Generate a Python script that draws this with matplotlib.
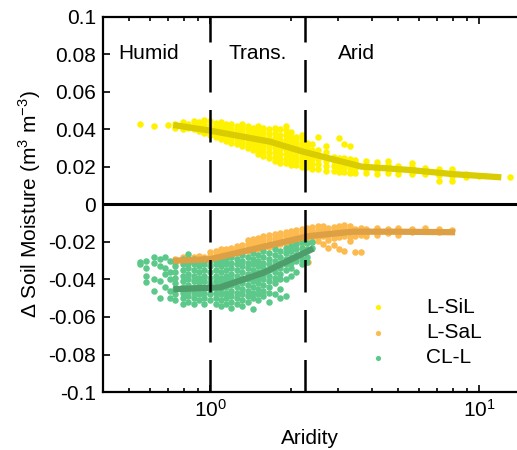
import numpy as np
import matplotlib.pyplot as plt

plt.rcParams['font.family'] = ['Liberation Sans', 'DejaVu Sans']

# --- scatter clouds (aridity, delta soil moisture) ---
sil_x = [0.55, 0.62, 0.70,
         0.74, 0.74, 0.79, 0.79, 0.79, 0.83, 0.83, 0.87, 0.87, 0.87,
         0.91, 0.91, 0.91, 0.95, 0.95, 0.95, 0.95, 1.00, 1.00, 1.00, 1.00,
         1.05, 1.05, 1.05, 1.05, 1.10, 1.10, 1.10, 1.10, 1.10,
         1.15, 1.15, 1.15, 1.15, 1.15, 1.20, 1.20, 1.20, 1.20, 1.20,
         1.26, 1.26, 1.26, 1.26, 1.26, 1.32, 1.32, 1.32, 1.32, 1.32, 1.32,
         1.38, 1.38, 1.38, 1.38, 1.38, 1.38, 1.45, 1.45, 1.45, 1.45, 1.45, 1.45,
         1.51, 1.51, 1.51, 1.51, 1.51, 1.51, 1.51,
         1.58, 1.58, 1.58, 1.58, 1.58, 1.58, 1.58,
         1.66, 1.66, 1.66, 1.66, 1.66, 1.66, 1.66,
         1.74, 1.74, 1.74, 1.74, 1.74, 1.74, 1.74, 1.74,
         1.82, 1.82, 1.82, 1.82, 1.82, 1.82, 1.82, 1.82,
         1.91, 1.91, 1.91, 1.91, 1.91, 1.91, 1.91, 1.91, 1.91,
         2.00, 2.00, 2.00, 2.00, 2.00, 2.00, 2.00, 2.00,
         2.09, 2.09, 2.09, 2.09, 2.09, 2.09, 2.09,
         2.19, 2.19, 2.19, 2.19, 2.19, 2.19, 2.19, 2.19,
         2.29, 2.29, 2.29, 2.29, 2.29, 2.29,
         2.40, 2.40, 2.40, 2.40, 2.40, 2.40, 2.52,
         2.51, 2.51, 2.51, 2.51, 2.51,
         2.69, 2.69, 2.69, 2.69, 2.69, 2.69,
         2.88, 2.88, 2.88, 2.88,
         3.02, 3.02, 3.02, 3.02, 3.02, 3.16, 3.16, 3.16, 3.16, 3.16,
         3.32, 3.32, 3.32, 3.32, 3.32, 3.47, 3.47, 3.47, 3.47,
         3.80, 3.80, 3.80, 3.80, 4.17, 4.17, 4.17, 4.17,
         4.57, 4.57, 4.57, 4.57, 5.01, 5.01, 5.01,
         5.62, 5.62, 5.62, 5.62, 6.31, 6.31, 6.31,
         7.08, 7.08, 7.08, 7.08, 7.94, 7.94, 7.94, 7.94,
         8.91, 8.91, 10.0, 13.0]
sil_y = [0.043, 0.042, 0.0426,
         0.041, 0.043, 0.040, 0.0425, 0.044, 0.041, 0.043, 0.040, 0.042, 0.0445,
         0.039, 0.0415, 0.044, 0.038, 0.0405, 0.043, 0.045, 0.037, 0.0395, 0.042, 0.0445,
         0.036, 0.0385, 0.041, 0.0435, 0.035, 0.0375, 0.040, 0.0425, 0.044,
         0.034, 0.0365, 0.039, 0.0415, 0.043, 0.033, 0.0355, 0.038, 0.0405, 0.043,
         0.032, 0.0345, 0.037, 0.0395, 0.042, 0.031, 0.0335, 0.036, 0.0385, 0.041, 0.043,
         0.030, 0.0325, 0.035, 0.0375, 0.040, 0.042, 0.029, 0.0315, 0.034, 0.0365, 0.039, 0.041,
         0.027, 0.0295, 0.032, 0.0345, 0.037, 0.0395, 0.042,
         0.026, 0.0285, 0.031, 0.0335, 0.036, 0.0385, 0.041,
         0.025, 0.0275, 0.030, 0.0325, 0.035, 0.0375, 0.040,
         0.023, 0.0255, 0.028, 0.0305, 0.033, 0.0355, 0.038, 0.041,
         0.022, 0.0245, 0.027, 0.0295, 0.032, 0.0345, 0.037, 0.040,
         0.022, 0.0245, 0.027, 0.0295, 0.032, 0.0345, 0.037, 0.0395, 0.042,
         0.021, 0.0235, 0.026, 0.0285, 0.031, 0.0335, 0.036, 0.0385,
         0.021, 0.0235, 0.026, 0.0285, 0.031, 0.0335, 0.036,
         0.020, 0.0225, 0.025, 0.0275, 0.030, 0.0325, 0.035, 0.037,
         0.020, 0.0225, 0.025, 0.0275, 0.030, 0.033,
         0.019, 0.0215, 0.024, 0.0265, 0.029, 0.032, 0.036,
         0.019, 0.0215, 0.024, 0.0265, 0.029,
         0.018, 0.0205, 0.023, 0.0255, 0.028, 0.031,
         0.018, 0.0205, 0.023, 0.0255,
         0.0175, 0.020, 0.0225, 0.025, 0.0355, 0.0175, 0.020, 0.0225, 0.025, 0.032,
         0.017, 0.0195, 0.022, 0.024, 0.031, 0.017, 0.0195, 0.022, 0.0235,
         0.017, 0.019, 0.021, 0.023, 0.0165, 0.0185, 0.0205, 0.0225,
         0.017, 0.019, 0.021, 0.023, 0.0165, 0.0185, 0.0205,
         0.016, 0.018, 0.020, 0.022, 0.016, 0.018, 0.0195,
         0.0155, 0.0175, 0.019, 0.0125, 0.0125, 0.015, 0.017, 0.019,
         0.0145, 0.0165, 0.015, 0.0147]

sal_x = [0.74, 0.74, 0.79, 0.79, 0.83, 0.83, 0.87, 0.87, 0.91, 0.91, 0.95, 0.95,
         1.00, 1.00, 1.00, 1.05, 1.05, 1.05, 1.10, 1.10, 1.10, 1.15, 1.15, 1.15,
         1.20, 1.20, 1.20, 1.26, 1.26, 1.26, 1.32, 1.32, 1.32,
         1.38, 1.38, 1.38, 1.38, 1.45, 1.45, 1.45, 1.45, 1.51, 1.51, 1.51, 1.51,
         1.58, 1.58, 1.58, 1.58, 1.66, 1.66, 1.66, 1.66, 1.74, 1.74, 1.74, 1.74,
         1.82, 1.82, 1.82, 1.82, 1.91, 1.91, 1.91, 1.91, 2.00, 2.00, 2.00, 2.00,
         2.09, 2.09, 2.09, 2.09, 2.19, 2.19, 2.19, 2.19, 2.19,
         2.29, 2.29, 2.29, 2.29, 2.31, 2.40, 2.40, 2.40, 2.40, 2.40,
         2.51, 2.51, 2.51, 2.51, 2.51, 2.63, 2.63, 2.63, 2.63, 2.63,
         2.75, 2.75, 2.75, 2.75, 2.75, 2.88, 2.88, 2.88, 2.88, 2.88,
         3.02, 3.02, 3.02, 3.02, 3.02, 3.16, 3.16, 3.16, 3.16, 3.16,
         3.32, 3.32, 3.32, 3.32, 3.32, 3.47, 3.47, 3.47, 3.47,
         3.63, 3.63, 3.63, 3.63, 3.80, 3.80, 3.80, 4.17, 4.17, 4.17,
         4.57, 4.57, 5.01, 5.01, 5.01, 5.62, 5.62, 6.31, 6.31, 7.08, 7.08, 7.94]
sal_y = [-0.031, -0.029, -0.030, -0.028, -0.031, -0.029, -0.030, -0.028, -0.0295, -0.0275, -0.030, -0.028,
         -0.0295, -0.0275, -0.0255, -0.029, -0.027, -0.025, -0.028, -0.026, -0.024, -0.0275, -0.0255, -0.0235,
         -0.027, -0.025, -0.023, -0.026, -0.024, -0.022, -0.0255, -0.0235, -0.0215,
         -0.025, -0.023, -0.021, -0.019, -0.0245, -0.0225, -0.0205, -0.0185, -0.024, -0.022, -0.020, -0.018,
         -0.023, -0.021, -0.019, -0.017, -0.0225, -0.0205, -0.0185, -0.0165, -0.022, -0.020, -0.018, -0.016,
         -0.021, -0.019, -0.017, -0.015, -0.0205, -0.0185, -0.0165, -0.0145, -0.020, -0.018, -0.016, -0.014,
         -0.0195, -0.0175, -0.0155, -0.0135, -0.019, -0.017, -0.015, -0.013, -0.021,
         -0.0185, -0.0165, -0.0145, -0.0125, -0.0305, -0.018, -0.016, -0.014, -0.012, -0.020,
         -0.0175, -0.0155, -0.0135, -0.0115, -0.0195, -0.017, -0.015, -0.013, -0.0115, -0.021,
         -0.0165, -0.0145, -0.0125, -0.019, -0.023, -0.016, -0.014, -0.012, -0.018, -0.0215,
         -0.0155, -0.0135, -0.0115, -0.0175, -0.024, -0.015, -0.013, -0.011, -0.017, -0.025,
         -0.015, -0.013, -0.0115, -0.0175, -0.0195, -0.015, -0.013, -0.017, -0.0253,
         -0.0145, -0.0125, -0.0165, -0.0253, -0.015, -0.013, -0.017, -0.0145, -0.0125, -0.0165,
         -0.015, -0.013, -0.0145, -0.0125, -0.0165, -0.0145, -0.013, -0.014, -0.0125, -0.0145, -0.013, -0.0135]

cll_x = [0.55, 0.55, 0.58, 0.58, 0.58, 0.58, 0.62, 0.62, 0.62, 0.62,
         0.65, 0.65, 0.65, 0.65, 0.68, 0.68, 0.68, 0.68, 0.71, 0.71, 0.71, 0.71, 0.71,
         0.74, 0.74, 0.74, 0.74, 0.74, 0.74, 0.74, 0.74,
         0.79, 0.79, 0.79, 0.79, 0.79, 0.79, 0.79, 0.79, 0.79,
         0.83, 0.83, 0.83, 0.83, 0.83, 0.83, 0.83, 0.83, 0.83,
         0.87, 0.87, 0.87, 0.87, 0.87, 0.87, 0.87, 0.87, 0.87,
         0.91, 0.91, 0.91, 0.91, 0.91, 0.91, 0.91, 0.91,
         0.95, 0.95, 0.95, 0.95, 0.95, 0.95, 0.95, 0.95, 0.95,
         1.00, 1.00, 1.00, 1.00, 1.00, 1.00, 1.00, 1.00,
         1.05, 1.05, 1.05, 1.05, 1.05, 1.05, 1.05, 1.05, 1.05,
         1.10, 1.10, 1.10, 1.10, 1.10, 1.10, 1.10, 1.10, 1.10,
         1.15, 1.15, 1.15, 1.15, 1.15, 1.15, 1.15, 1.15, 1.15,
         1.20, 1.20, 1.20, 1.20, 1.20, 1.20, 1.20, 1.20, 1.20, 1.20,
         1.26, 1.26, 1.26, 1.26, 1.26, 1.26, 1.26, 1.26, 1.26,
         1.32, 1.32, 1.32, 1.32, 1.32, 1.32, 1.32, 1.32, 1.32, 1.32,
         1.38, 1.38, 1.38, 1.38, 1.38, 1.38, 1.38, 1.38, 1.38,
         1.45, 1.45, 1.45, 1.45, 1.45, 1.45, 1.45, 1.45, 1.45, 1.45,
         1.51, 1.51, 1.51, 1.51, 1.51, 1.51, 1.51, 1.51, 1.51,
         1.58, 1.58, 1.58, 1.58, 1.58, 1.58, 1.58, 1.58, 1.58,
         1.66, 1.66, 1.66, 1.66, 1.66, 1.66, 1.66, 1.66, 1.66,
         1.74, 1.74, 1.74, 1.74, 1.74, 1.74, 1.74, 1.74,
         1.82, 1.82, 1.82, 1.82, 1.82, 1.82, 1.82, 1.82,
         1.91, 1.91, 1.91, 1.91, 1.91, 1.91, 1.91,
         2.00, 2.00, 2.00, 2.00, 2.00, 2.00, 2.09, 2.09, 2.09, 2.09, 2.09,
         2.19, 2.19, 2.19, 2.19, 2.19, 2.29, 2.29, 2.29, 2.29, 2.40, 2.40]
cll_y = [-0.0305, -0.032, -0.030, -0.034, -0.038, -0.0415, -0.031, -0.028, -0.040, -0.046,
         -0.029, -0.033, -0.041, -0.050, -0.028, -0.034, -0.037, -0.044, -0.030, -0.036, -0.040, -0.046, -0.050,
         -0.030, -0.033, -0.036, -0.039, -0.042, -0.045, -0.048, -0.051,
         -0.029, -0.032, -0.035, -0.038, -0.041, -0.044, -0.047, -0.050, -0.053,
         -0.0265, -0.031, -0.034, -0.037, -0.040, -0.043, -0.046, -0.049, -0.052,
         -0.029, -0.032, -0.035, -0.038, -0.041, -0.044, -0.047, -0.050, -0.053,
         -0.030, -0.033, -0.036, -0.039, -0.042, -0.045, -0.048, -0.051,
         -0.029, -0.032, -0.035, -0.038, -0.041, -0.044, -0.047, -0.050, -0.053,
         -0.030, -0.033, -0.036, -0.039, -0.042, -0.045, -0.048, -0.051,
         -0.029, -0.032, -0.035, -0.038, -0.041, -0.044, -0.047, -0.050, -0.053,
         -0.030, -0.033, -0.036, -0.039, -0.042, -0.045, -0.048, -0.051, -0.054,
         -0.029, -0.032, -0.035, -0.038, -0.041, -0.044, -0.047, -0.050, -0.053,
         -0.028, -0.031, -0.034, -0.037, -0.040, -0.043, -0.046, -0.049, -0.052, -0.055,
         -0.029, -0.032, -0.035, -0.038, -0.041, -0.044, -0.047, -0.050, -0.053,
         -0.027, -0.030, -0.033, -0.036, -0.039, -0.042, -0.045, -0.048, -0.051, -0.054,
         -0.028, -0.031, -0.034, -0.037, -0.040, -0.043, -0.046, -0.049, -0.052,
         -0.026, -0.029, -0.032, -0.035, -0.038, -0.041, -0.044, -0.047, -0.050, -0.0555,
         -0.027, -0.030, -0.033, -0.036, -0.039, -0.042, -0.045, -0.048, -0.051,
         -0.025, -0.028, -0.031, -0.034, -0.037, -0.040, -0.043, -0.046, -0.049,
         -0.026, -0.029, -0.032, -0.035, -0.038, -0.041, -0.044, -0.047, -0.052,
         -0.024, -0.027, -0.030, -0.033, -0.036, -0.039, -0.042, -0.048,
         -0.025, -0.028, -0.031, -0.034, -0.037, -0.040, -0.045, -0.050,
         -0.023, -0.026, -0.029, -0.032, -0.035, -0.040, -0.049,
         -0.022, -0.025, -0.028, -0.031, -0.034, -0.038, -0.021, -0.024, -0.027, -0.030, -0.036,
         -0.020, -0.023, -0.026, -0.029, -0.032, -0.0205, -0.024, -0.028, -0.0305, -0.020, -0.023]

# --- binned trend lines ---
sil_trend_x = [0.73, 1.0, 1.67, 2.2, 3.66, 5.54, 8.0, 12.1]
sil_trend_y = [0.0424, 0.0394, 0.0335, 0.0283, 0.0202, 0.0184, 0.0162, 0.0145]
sal_trend_x = [0.73, 1.0, 1.58, 2.35, 3.4, 4.94, 8.15]
sal_trend_y = [-0.030, -0.0292, -0.0225, -0.0168, -0.0145, -0.0145, -0.0148]
cll_trend_x = [0.73, 1.09, 1.58, 2.42]
cll_trend_y = [-0.0452, -0.0442, -0.0364, -0.0235]

labels = ['L-SiL', 'L-SaL', 'CL-L']
dot_colors = ['#FFF200', '#FDBA4E', '#5CC98A']
line_colors = ['#D9CC00', '#DDA044', '#4E9E6C']

zones = ['Humid', 'Trans.', 'Arid']
zone_x = [0.59, 1.51, 3.5]
bounds = [1.0, 2.25]

yticks = [-0.1, -0.08, -0.06, -0.04, -0.02, 0, 0.02, 0.04, 0.06, 0.08, 0.1]
ytick_labels = ['-0.1', '-0.08', '-0.06', '-0.04', '-0.02', '0', '0.02', '0.04', '0.06', '0.08', '0.1']

fs = 15

fig = plt.figure(figsize=(5.17, 4.5), dpi=100)
ax = fig.add_axes([103 / 517, 1 - 392 / 450, 1 - 103 / 517, (392 - 17) / 450])

ax.scatter(sil_x, sil_y, s=22, color=dot_colors[0], lw=0, label=labels[0], zorder=2)
ax.scatter(sal_x, sal_y, s=22, color=dot_colors[1], lw=0, label=labels[1], zorder=2)
ax.scatter(cll_x, cll_y, s=22, color=dot_colors[2], lw=0, label=labels[2], zorder=2)

ax.plot(sil_trend_x, sil_trend_y, color=line_colors[0], lw=4.5, zorder=3, solid_capstyle='butt')
ax.plot(sal_trend_x, sal_trend_y, color=line_colors[1], lw=4.5, zorder=3, solid_capstyle='butt')
ax.plot(cll_trend_x, cll_trend_y, color=line_colors[2], lw=4.5, zorder=3, solid_capstyle='butt')

ax.axhline(0, color='black', lw=2.2, zorder=4)
for b in bounds:
    ax.axvline(b, color='black', lw=1.8, dashes=(13, 7), zorder=4)

for name, zx in zip(zones, zone_x):
    ax.text(zx, 0.0805, name, fontsize=fs, ha='center', va='center')

ax.set_xscale('log')
ax.set_xlim(0.40, 13.84)
ax.set_ylim(-0.1, 0.1)
ax.set_yticks(yticks)
ax.set_yticklabels(ytick_labels)
ax.set_xticks([1, 10])
ax.set_xticklabels(['$\\mathregular{10^0}$', '$\\mathregular{10^1}$'])

ax.tick_params(which='both', direction='in', top=True, right=False, labelsize=fs, width=1.2)
ax.tick_params(which='major', length=5, pad=5)
ax.tick_params(which='minor', length=3)
for sp in ['left', 'bottom', 'top']:
    ax.spines[sp].set_linewidth(1.6)
ax.spines['right'].set_visible(False)

ax.set_xlabel('Aridity', fontsize=fs, labelpad=6)
ax.set_ylabel('$\\mathregular{\\Delta}$ Soil Moisture (m$^{\\mathregular{3}}$ m$^{\\mathregular{-3}}$)', fontsize=fs, labelpad=4)

leg = ax.legend(loc='lower right', bbox_to_anchor=(0.94, 0.038), frameon=False, fontsize=fs,
                markerscale=0.8, handletextpad=1.3, labelspacing=0.3, borderpad=0)

fig.savefig('out.png', dpi=100)
